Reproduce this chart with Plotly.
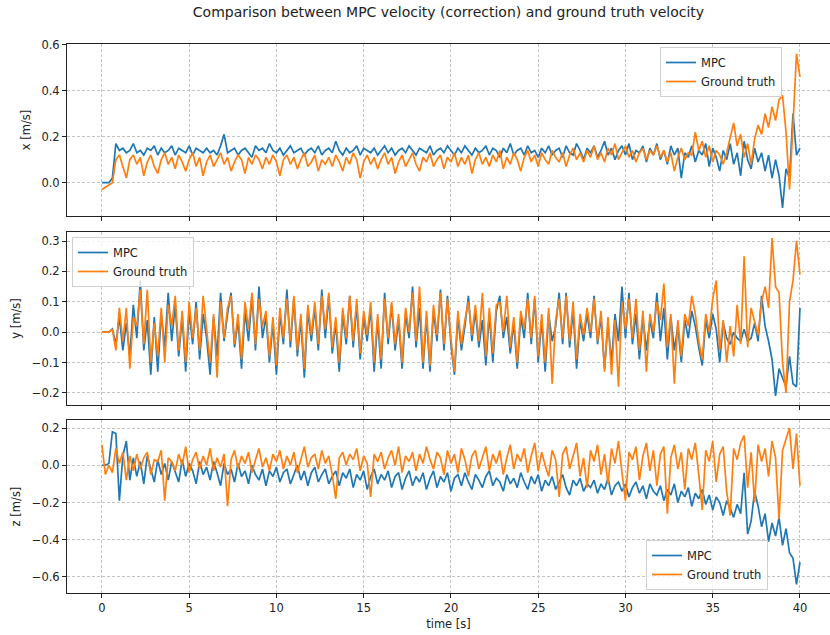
import plotly.graph_objects as go
from plotly.subplots import make_subplots

# time stamps [s], 0.2 s apart, 0 .. 40
time_s = [round(i * 0.2, 1) for i in range(201)]

x_mpc = [
    0.0, 0.0, 0.0, 0.02, 0.17, 0.14, 0.15, 0.13, 0.14, 0.17,
    0.13, 0.14, 0.12, 0.15, 0.14, 0.16, 0.12, 0.15, 0.13, 0.14,
    0.16, 0.12, 0.15, 0.14, 0.13, 0.16, 0.12, 0.15, 0.14, 0.13,
    0.15, 0.13, 0.14, 0.12, 0.16, 0.21, 0.13, 0.14, 0.15, 0.12,
    0.14, 0.15, 0.13, 0.11, 0.16, 0.14, 0.15, 0.13, 0.17, 0.14,
    0.13, 0.15, 0.12, 0.14, 0.16, 0.13, 0.14, 0.15, 0.12, 0.14,
    0.15, 0.13, 0.16, 0.12, 0.14, 0.15, 0.13, 0.18, 0.14, 0.12,
    0.15, 0.13, 0.14, 0.16, 0.12, 0.15, 0.14, 0.13, 0.15, 0.12,
    0.14, 0.16, 0.13, 0.15, 0.12, 0.14, 0.15, 0.13, 0.16, 0.14,
    0.12, 0.15, 0.14, 0.13, 0.16, 0.12, 0.14, 0.15, 0.13, 0.16,
    0.14, 0.12, 0.15, 0.13, 0.16, 0.14, 0.12, 0.15, 0.13, 0.14,
    0.16, 0.12, 0.15, 0.14, 0.11, 0.15, 0.13, 0.17, 0.12, 0.14,
    0.15, 0.12, 0.16, 0.13, 0.14, 0.11, 0.15, 0.13, 0.16, 0.12,
    0.14, 0.15, 0.11, 0.16, 0.13, 0.12, 0.17, 0.14, 0.10, 0.15,
    0.13, 0.16, 0.11, 0.14, 0.18, 0.12, 0.15, 0.10, 0.14, 0.16,
    0.12, 0.17, 0.10, 0.14, 0.13, 0.16, 0.09, 0.15, 0.12, 0.17,
    0.10, 0.14, 0.08, 0.16, 0.12, 0.15, 0.02, 0.13, 0.11, 0.16,
    0.09, 0.14, 0.12, 0.17, 0.07, 0.15, 0.11, 0.05, 0.14, 0.10,
    0.17, 0.08, 0.13, 0.03, 0.18, 0.10, 0.06, 0.15, 0.09, 0.13,
    0.05, 0.12, 0.02, 0.10, 0.03, -0.11, 0.06, 0.02, 0.30, 0.12,
    0.15,
]
x_gt = [
    -0.03, -0.02, -0.01, 0.0, 0.10, 0.12, 0.07, 0.02, 0.10, 0.12,
    0.08, 0.11, 0.03, 0.09, 0.12, 0.07, 0.04, 0.10, 0.13, 0.08,
    0.11, 0.06, 0.12, 0.09, 0.05, 0.10, 0.13, 0.07, 0.11, 0.03,
    0.09, 0.12, 0.07, 0.10, 0.13, 0.08, 0.11, 0.05, 0.09, 0.12,
    0.10, 0.04, 0.11, 0.08, 0.12, 0.10, 0.06, 0.11, 0.08, 0.12,
    0.09, 0.03, 0.10, 0.12, 0.08, 0.11, 0.06, 0.10, 0.13, 0.07,
    0.09, 0.12, 0.05, 0.10, 0.08, 0.11, 0.07, 0.12, 0.09, 0.05,
    0.11, 0.08, 0.13, 0.10, 0.02, 0.09, 0.12, 0.08, 0.11, 0.06,
    0.10, 0.13, 0.08, 0.11, 0.04, 0.09, 0.12, 0.07, 0.10, 0.13,
    0.08, 0.05, 0.11, 0.09, 0.13, 0.07, 0.10, 0.12, 0.06, 0.11,
    0.09, 0.13, 0.07, 0.11, 0.08, 0.12, 0.04, 0.10, 0.13, 0.08,
    0.11, 0.07, 0.12, 0.09, 0.14, 0.06, 0.11, 0.08, 0.13, 0.10,
    0.05, 0.11, 0.14, 0.09, 0.12, 0.07, 0.13, 0.10, 0.08, 0.14,
    0.11, 0.09, 0.13, 0.07, 0.12, 0.15, 0.10, 0.13, 0.09, 0.14,
    0.11, 0.16, 0.10, 0.13, 0.09, 0.15, 0.12, 0.17, 0.10, 0.13,
    0.16, 0.11, 0.14, 0.09, 0.13, 0.15, 0.10, 0.14, 0.12, 0.16,
    0.11, 0.14, 0.09, 0.13, 0.05, 0.11, 0.15, 0.10, 0.13, 0.12,
    0.22, 0.14, 0.18, 0.11, 0.16, 0.09, 0.14, 0.12, 0.08, 0.13,
    0.20, 0.26, 0.16, 0.21, 0.11, 0.17, 0.08, 0.19, 0.25, 0.21,
    0.30, 0.24, 0.33, 0.27, 0.36, 0.38, 0.22, -0.03, 0.25, 0.56,
    0.46,
]

y_mpc = [
    0.0, 0.0, 0.0, 0.01, -0.04, 0.05, -0.06, 0.03, -0.08, 0.09,
    -0.02, 0.17, -0.06, 0.04, -0.14, 0.05, -0.13, 0.06, -0.05, 0.13,
    -0.03, 0.09, -0.08, 0.05, -0.13, 0.07, -0.04, 0.10, -0.09, 0.06,
    -0.02, -0.14, 0.05, -0.08, 0.13, -0.03, 0.06, 0.13, -0.05, 0.04,
    -0.12, 0.07, -0.03, 0.12, -0.06, 0.15, -0.02, 0.05, -0.10, 0.03,
    -0.14, 0.06, -0.04, 0.14, -0.05, 0.11, -0.08, 0.04, -0.15, 0.07,
    -0.03, 0.08, -0.06, 0.14, -0.02, 0.12, -0.07, 0.03, -0.13, 0.06,
    -0.04, 0.12, -0.05, 0.09, -0.09, 0.05, -0.03, 0.08, -0.13, 0.04,
    -0.12, 0.13, -0.04, 0.09, -0.06, 0.04, -0.12, 0.06, -0.02, 0.15,
    -0.05, 0.08, -0.12, 0.05, -0.13, 0.07, -0.03, 0.14, -0.06, 0.12,
    -0.04, -0.14, 0.05, -0.06, 0.02, 0.12, -0.03, 0.07, -0.05, 0.04,
    -0.11, 0.06, -0.10, 0.07, 0.12, -0.02, 0.05, -0.07, 0.03, -0.12,
    0.05, -0.02, 0.13, -0.04, 0.11, -0.10, 0.04, -0.13, 0.06, -0.03,
    0.02, 0.13, -0.04, 0.13, -0.05, 0.07, -0.12, 0.04, -0.03, 0.06,
    -0.02, 0.12, -0.04, 0.05, -0.12, 0.03, -0.10, 0.06, -0.03, 0.15,
    -0.02, 0.13, -0.04, 0.06, -0.09, 0.05, -0.06, 0.04, -0.02, 0.13,
    -0.03, 0.08, -0.09, 0.05, -0.06, 0.02, -0.10, 0.04, -0.02, 0.07,
    0.02, -0.05, -0.11, 0.04, -0.02, 0.06, 0.01, -0.10, 0.03, -0.02,
    -0.04, 0.00, -0.02, -0.03, 0.01, -0.03, -0.02, 0.03, -0.03, 0.12,
    0.02, -0.03, -0.09, -0.21, -0.12, -0.15, -0.18, -0.08, -0.17, -0.18,
    0.08,
]
y_gt = [
    0.0, 0.0, 0.0, 0.01, -0.06, 0.08, -0.03, 0.08, -0.12, 0.05,
    0.02, 0.14, -0.04, 0.14, -0.10, 0.03, -0.08, 0.08, -0.10, 0.09,
    0.02, 0.12, -0.06, 0.07, -0.10, 0.10, -0.02, 0.08, -0.06, 0.12,
    0.01, -0.10, 0.06, -0.15, 0.10, -0.02, 0.08, 0.12, -0.04, 0.06,
    -0.09, 0.10, 0.01, 0.13, -0.04, 0.11, 0.02, 0.07, -0.08, 0.05,
    -0.11, 0.08, -0.02, 0.11, -0.03, 0.12, -0.06, 0.06, -0.12, 0.09,
    -0.01, 0.10, -0.04, 0.12, 0.01, 0.13, -0.05, 0.05, -0.10, 0.08,
    -0.02, 0.12, -0.03, 0.11, -0.07, 0.07, -0.01, 0.10, -0.10, 0.06,
    -0.09, 0.11, -0.02, 0.10, -0.04, 0.06, -0.10, 0.08, 0.00, 0.13,
    -0.03, 0.15, -0.10, 0.07, -0.11, 0.09, -0.01, 0.13, -0.04, 0.11,
    -0.02, -0.13, 0.07, -0.04, 0.04, 0.10, -0.01, 0.09, -0.03, 0.13,
    -0.08, 0.08, -0.07, 0.09, 0.10, 0.00, 0.12, -0.05, 0.05, -0.10,
    0.07, 0.01, 0.11, -0.02, 0.12, -0.08, 0.06, -0.10, 0.08, -0.17,
    0.04, 0.11, -0.02, 0.12, -0.03, 0.10, -0.09, 0.06, -0.01, 0.08,
    0.00, 0.11, -0.03, 0.07, -0.13, 0.05, -0.14, 0.04, -0.18, 0.10,
    0.01, 0.11, -0.02, 0.11, -0.06, 0.07, -0.13, 0.06, 0.00, 0.10,
    0.04, 0.16, -0.05, 0.06, -0.17, 0.04, -0.08, 0.06, 0.02, 0.12,
    0.06, -0.03, -0.09, 0.06, 0.00, 0.11, 0.17, -0.06, 0.04, -0.10,
    0.02, -0.08, 0.09, -0.04, 0.25, -0.05, 0.08, 0.03, -0.01, 0.10,
    0.15, 0.08, 0.31, 0.15, 0.13, -0.10, -0.20, 0.10, 0.17, 0.30,
    0.19,
]

z_mpc = [
    0.0, 0.0, 0.01, 0.18, 0.17, -0.19, 0.05, 0.13, -0.08, 0.04,
    -0.06, 0.02, -0.10, 0.05, -0.02, -0.09, 0.03, -0.05, 0.01, -0.08,
    0.02, -0.04, -0.09, 0.03, -0.06, 0.01, -0.03, -0.10, 0.02, -0.05,
    -0.01, -0.08, 0.02, -0.04, -0.11, 0.01, -0.05, -0.02, -0.09, 0.01,
    -0.06, -0.03, -0.10, 0.00, -0.05, -0.08, -0.02, -0.11, -0.03, -0.06,
    -0.01, -0.09, -0.04, -0.02, -0.10, -0.05, 0.00, -0.08, -0.03, -0.11,
    -0.04, -0.01, -0.09, -0.05, -0.02, -0.10, -0.06, -0.03, -0.11, -0.04,
    -0.07, -0.02, -0.12, -0.05, -0.08, -0.03, -0.13, -0.06, -0.02, -0.10,
    -0.05, -0.08, -0.03, -0.12, -0.06, -0.04, -0.13, -0.07, -0.03, -0.11,
    -0.06, -0.09, -0.04, -0.13, -0.07, -0.03, -0.12, -0.06, -0.09, -0.04,
    -0.14, -0.07, -0.05, -0.11, -0.04, -0.09, -0.13, -0.05, -0.08, -0.12,
    -0.06, -0.03, -0.11, -0.07, -0.09, -0.14, -0.05, -0.10, -0.07, -0.12,
    -0.04, -0.09, -0.13, -0.06, -0.10, -0.05, -0.14, -0.08, -0.11, -0.06,
    -0.13, -0.09, -0.05, -0.12, -0.16, -0.08, -0.11, -0.07, -0.14, -0.10,
    -0.12, -0.08, -0.15, -0.10, -0.13, -0.07, -0.16, -0.11, -0.09, -0.14,
    -0.10, -0.17, -0.12, -0.09, -0.15, -0.11, -0.18, -0.10, -0.14, -0.16,
    -0.11, -0.19, -0.13, -0.16, -0.10, -0.20, -0.14, -0.17, -0.12, -0.22,
    -0.15, -0.18, -0.13, -0.21, -0.16, -0.24, -0.17, -0.20, -0.27, -0.19,
    -0.23, -0.28, -0.21, -0.26, -0.04, -0.37, -0.30, -0.14, -0.22, -0.33,
    -0.26, -0.41, -0.31, -0.38, -0.28, -0.43, -0.34, -0.47, -0.50, -0.64,
    -0.52,
]
z_gt = [
    0.11, -0.05, 0.0, -0.04, 0.09, 0.01, 0.07, -0.08, 0.05, -0.03,
    0.06, -0.02, 0.04, 0.07, -0.05, 0.03, 0.02, 0.08, -0.19, 0.04,
    0.02, -0.03, 0.06, 0.00, 0.10, -0.04, 0.03, 0.07, -0.02, 0.05,
    0.00, 0.09, -0.03, 0.04, -0.01, 0.06, -0.22, 0.03, 0.08, -0.02,
    0.05, 0.01, 0.07, -0.04, 0.03, 0.09, -0.01, 0.04, -0.03, 0.06,
    0.02, 0.08, -0.02, 0.05, 0.00, 0.07, -0.04, 0.03, 0.10, -0.01,
    0.04, 0.06, -0.02, 0.08, 0.01, 0.05, -0.05, -0.18, 0.04, 0.07,
    0.00, 0.06, 0.03, 0.09, -0.03, 0.05, 0.01, -0.17, 0.06, 0.02,
    0.07, -0.02, 0.04, 0.08, 0.00, 0.10, -0.04, 0.05, 0.02, 0.07,
    -0.03, 0.06, 0.01, 0.10, 0.03, -0.02, 0.07, 0.04, -0.05, 0.08,
    0.01, 0.06, -0.04, 0.09, 0.03, -0.06, 0.05, 0.08, -0.02, 0.04,
    0.10, -0.03, 0.06, 0.01, 0.08, -0.05, 0.04, 0.11, -0.02, 0.06,
    0.02, 0.09, -0.04, 0.05, 0.12, -0.03, 0.07, 0.00, -0.06, 0.08,
    0.03, -0.17, 0.06, 0.10, -0.02, 0.05, 0.12, -0.06, 0.04, -0.12,
    0.08, 0.02, 0.11, -0.05, 0.06, -0.10, 0.09, 0.01, 0.13, -0.04,
    -0.19, 0.07, 0.03, 0.10, -0.08, 0.05, 0.12, -0.03, 0.08, -0.11,
    0.06, 0.10, -0.26, 0.04, 0.11, -0.02, 0.07, -0.13, 0.09, 0.03,
    0.12, -0.05, -0.24, 0.08, 0.02, 0.13, -0.09, 0.06, 0.10, -0.14,
    -0.27, 0.09, 0.03, 0.12, 0.16, -0.12, 0.07, -0.20, 0.11, 0.02,
    0.09, -0.06, 0.13, 0.04, -0.29, 0.08, 0.14, 0.20, -0.02, 0.17,
    -0.11,
]

title_text = "Comparison between MPC velocity (correction) and ground truth velocity"
y_labels = ["x [m/s]", "y [m/s]", "z [m/s]"]
x_label = "time [s]"
series_names = ["MPC", "Ground truth"]
x_ticks = [0, 5, 10, 15, 20, 25, 30, 35, 40]

BLUE = "#1f77b4"
ORANGE = "#ff7f0e"
FONT = "DejaVu Sans"

fig = make_subplots(rows=3, cols=1, shared_xaxes=True)

panels = [(x_mpc, x_gt, "legend"), (y_mpc, y_gt, "legend2"), (z_mpc, z_gt, "legend3")]
for r, (mpc, gt, lg) in enumerate(panels, start=1):
    fig.add_trace(go.Scatter(x=time_s, y=mpc, mode="lines", name=series_names[0],
                             line=dict(color=BLUE, width=1.7), legend=lg), row=r, col=1)
    fig.add_trace(go.Scatter(x=time_s, y=gt, mode="lines", name=series_names[1],
                             line=dict(color=ORANGE, width=1.7), legend=lg), row=r, col=1)

L, T, B = 67, 44, 42
H = 635 - T - B
W = 830 - L
def dom(top_px, bot_px):
    return [(593 - bot_px) / H, (593 - top_px) / H]

axis_common = dict(showline=True, linecolor="#222", linewidth=1,
                   ticks="outside", ticklen=4, tickcolor="#222",
                   showgrid=True, gridcolor="#c4c4c4", gridwidth=0.7, griddash="3px,2px",
                   zeroline=False, tickfont=dict(family=FONT, size=11.5, color="#222"))

for i in (1, 2, 3):
    fig.update_xaxes(range=[-2.0, 41.72], tickvals=x_ticks, mirror=True, row=i, col=1, **axis_common)
fig.update_xaxes(title=dict(text=x_label, font=dict(family=FONT, size=11.5, color="#222"), standoff=6),
                 row=3, col=1)

fig.update_yaxes(range=[-0.145, 0.603], dtick=0.2, tick0=0, tickformat=".1f", row=1, col=1, **axis_common)
fig.update_yaxes(range=[-0.24, 0.33], dtick=0.1, tick0=0, tickformat=".1f", row=2, col=1, **axis_common)
fig.update_yaxes(range=[-0.686, 0.243], dtick=0.2, tick0=0, tickformat=".1f", row=3, col=1, **axis_common)
for i, lab in enumerate(y_labels, start=1):
    fig.update_yaxes(title=dict(text=lab, font=dict(family=FONT, size=11.5, color="#222"), standoff=8),
                     mirror=False, row=i, col=1)

fig.update_layout(
    yaxis=dict(domain=dom(44, 216)),
    yaxis2=dict(domain=dom(232, 405)),
    yaxis3=dict(domain=dom(420, 593)),
)

leg_common = dict(font=dict(family=FONT, size=11.5, color="#222"), bgcolor="rgba(255,255,255,0.8)",
                  bordercolor="#d0d0d0", borderwidth=1, tracegroupgap=0, itemwidth=30)
fig.update_layout(
    width=830, height=635,
    margin=dict(l=L, r=0, t=T, b=B),
    paper_bgcolor="white", plot_bgcolor="white",
    title=dict(text=title_text, x=0.5, xref="paper", y=1 - 12 / 635, yanchor="middle",
               font=dict(family=FONT, size=14, color="#222")),
    legend=dict(x=(782 - L) / W, xanchor="right", y=(593 - 47) / H, yanchor="top", **leg_common),
    legend2=dict(x=(72 - L) / W, xanchor="left", y=(593 - 237) / H, yanchor="top", **leg_common),
    legend3=dict(x=(768 - L) / W, xanchor="right", y=(593 - 590) / H, yanchor="bottom", **leg_common),
    showlegend=True,
)

fig.write_html("out.html")
